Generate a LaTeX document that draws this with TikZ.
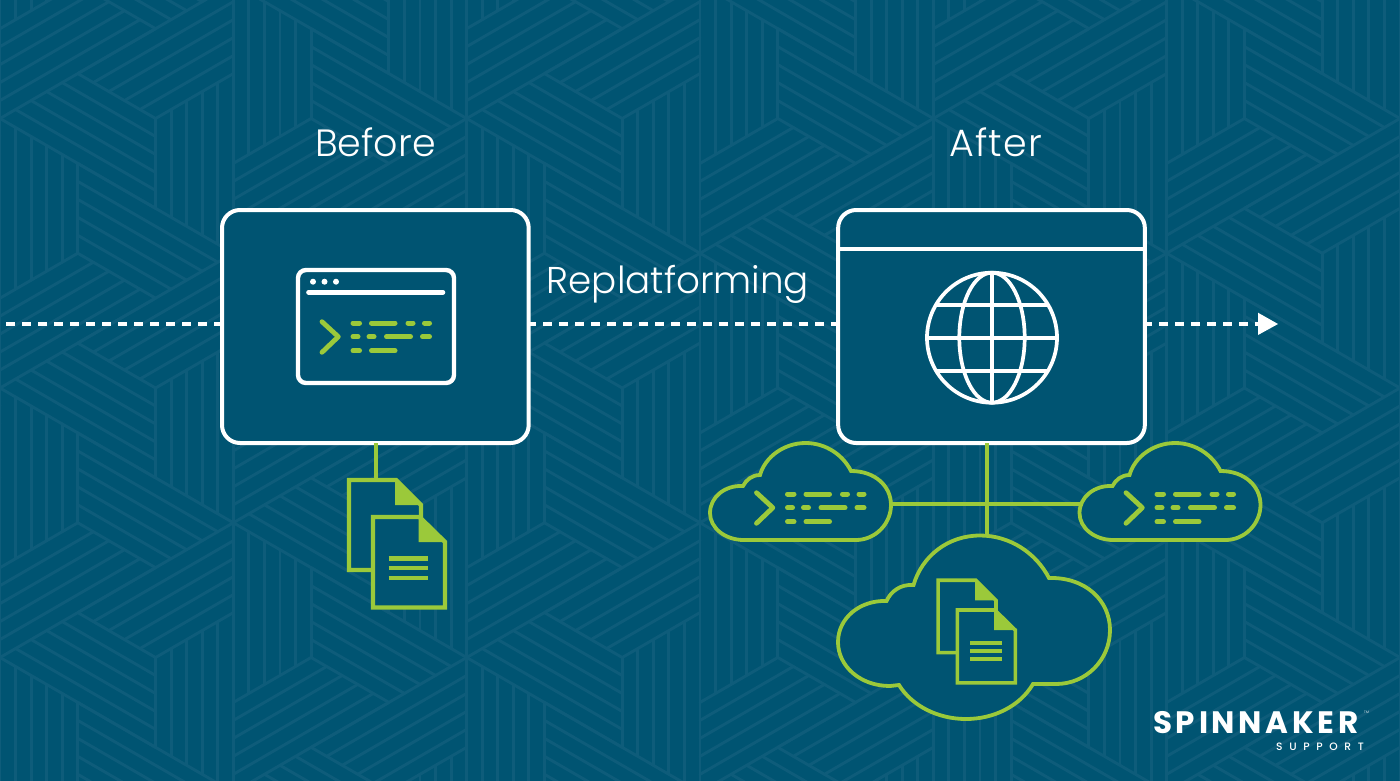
\documentclass[tikz,border=0pt]{standalone}
\usepackage{fontspec}
\setmainfont{Poppins Light}
\newfontfamily\logofont[LetterSpace=12]{Poppins Bold}
\newfontfamily\logosub[LetterSpace=62]{Poppins Medium}
\usetikzlibrary{arrows.meta,calc}
\definecolor{bgblue}{RGB}{0,84,114}
\definecolor{stripeblue}{RGB}{14,92,122}
\definecolor{leaf}{RGB}{155,201,58}
\tikzset{
  x=1pt,y=-1pt,
  stripe/.style={draw=stripeblue,line width=2.9pt,line cap=round},
  bigbox/.style={draw=white,fill=bgblue,line width=4pt,rounded corners=18pt,outer sep=0pt,inner sep=0pt,minimum width=306.7pt,minimum height=233pt},
  whiteline/.style={draw=white,line width=4pt},
  leafline/.style={draw=leaf,line width=3.8pt},
  dashline/.style={draw=white,line width=4pt,dash pattern=on 8.5pt off 7.5pt},
  iconbar/.style={draw=leaf,line width=5pt,line cap=round},
  iconchev/.style={draw=leaf,line width=4.8pt,line cap=round,line join=round},
  label/.style={text=white,anchor=base,inner sep=0pt,outer sep=0pt,font=\fontsize{38}{42}\selectfont},
}
% one trapezoid of stripes: vertex a, next b, prev c
\newcommand{\trapez}[6]{%
  \foreach \k in {0,...,5}{%
    \pgfmathsetmacro{\tt}{\k/5}%
    \pgfmathsetmacro{\sx}{#1+\tt*(#5-#1)/3}%
    \pgfmathsetmacro{\sy}{#2+\tt*(#6-#2)/3}%
    \pgfmathsetmacro{\wx}{#1+2*(#3-#1)/3}%
    \pgfmathsetmacro{\wy}{#2+2*(#4-#2)/3}%
    \pgfmathsetmacro{\ex}{\wx+\tt*((#1+#3+#5)/3-\wx)}%
    \pgfmathsetmacro{\ey}{\wy+\tt*((#2+#4+#6)/3-\wy)}%
    \draw[stripe] (\sx,\sy) -- (\ex,\ey);
  }}
\newcommand{\pinwheel}[6]{%
  \trapez{#1}{#2}{#3}{#4}{#5}{#6}%
  \trapez{#3}{#4}{#5}{#6}{#1}{#2}%
  \trapez{#5}{#6}{#1}{#2}{#3}{#4}}
\newcommand{\termicon}[2]{%
  \begin{scope}[shift={(#1,#2)}]
    \draw[iconchev] (322,321.7) -- (338.3,336.7) -- (322,352.3);
    \draw[iconbar] (353,323) -- (359.5,323) (371.5,323) -- (395,323) (408,323) -- (413,323) (424.5,323) -- (429.5,323);
    \draw[iconbar] (353,336.7) -- (358,336.7) (369,336.7) -- (374,336.7) (386.5,336.7) -- (410.5,336.7) (422.5,336.7) -- (429.5,336.7);
    \draw[iconbar] (353,350.7) -- (359.5,350.7) (371.5,350.7) -- (395,350.7);
  \end{scope}}
\newcommand{\docicon}[4]{%
  \begin{scope}[shift={(#1,#2)},scale=#3]
    \draw[draw=leaf,line width=#4,fill=bgblue] (349,480) -- (396,480) -- (421,505) -- (421,570) -- (349,570) -- cycle;
    \fill[leaf] (395,480) -- (395,505) -- (422.7,505) -- cycle;
    \draw[draw=leaf,line width=#4,fill=bgblue] (373,517) -- (419.5,517) -- (445,542) -- (445,607.5) -- (373,607.5) -- cycle;
    \fill[leaf] (418.5,517) -- (418.5,542) -- (446.5,542) -- cycle;
    \draw[draw=leaf,line width=#4] (388.7,558.3) -- (428,558.3) (388.7,568) -- (428,568) (388.7,577.7) -- (428,577.7);
  \end{scope}}
\newcommand{\smallcloud}[1]{%
  \begin{scope}[shift={(#1,0)}]
    \draw[leafline,fill=bgblue]
      (744,540) -- (856,540)
      .. controls (875,540) and (891,524) .. (891,505)
      .. controls (891,486) and (875,471) .. (851,471)
      .. controls (843,455) and (826,443) .. (805.5,443)
      .. controls (784,443) and (765,457) .. (760,475)
      .. controls (752,475) and (746,480) .. (743,486)
      .. controls (725,485) and (710,497) .. (710,513)
      .. controls (710,528) and (725,540) .. (744,540) -- cycle;
  \end{scope}}
\begin{document}
\begin{tikzpicture}
\useasboundingbox (0,0) rectangle (1400,780);
\begin{scope}
  \clip (-4,-4) rectangle (1404,784);
  \fill[bgblue] (-4,-4) rectangle (1404,784);
  \foreach \i in {0,...,6}{
    \pgfmathsetmacro{\cx}{233.333*\i}
    \pgfmathsetmacro{\cxr}{233.333*(\i+1)}
    \pgfmathsetmacro{\cxl}{233.333*(\i-1)}
    \pgfmathsetmacro{\cy}{ifthenelse(mod(\i,2)==0,118.5,-16.25)}
    \foreach \j in {-1,...,3}{
      \pgfmathsetmacro{\ya}{\cy+269.5*\j}
      \pgfmathsetmacro{\yb}{\ya+269.5}
      \pgfmathsetmacro{\ym}{\ya+134.75}
      \pinwheel{\cx}{\ya}{\cx}{\yb}{\cxr}{\ym}
      \pinwheel{\cx}{\yb}{\cx}{\ya}{\cxl}{\ym}
    }
  }
\end{scope}

\coordinate (start) at (6,324);
\coordinate (tip) at (1278,324);
\node[bigbox] (before) at (375.35,326.5) {};
\node[bigbox] (after) at (991.5,326.5) {};

\draw[dashline] (start) -- (start -| before.west);
\draw[dashline,dash phase=1.4pt] (start -| before.east) -- (start -| after.west);
\draw[dashline,dash phase=1.7pt] (start -| after.east) -- (1258,324);
\fill[white] (1258,312.7) -- (tip) -- (1258,335) -- cycle;

\node[label] (beforelabel) at (375.5,156) {Before};
\node[label] (afterlabel) at (995.5,156) {\addfontfeature{LetterSpace=3}After};
\node[label,font=\fontsize{37.3}{42}\selectfont] (replat) at (678,293.5) {Replatforming};

% before-box window
\draw[white,line width=4.4pt,rounded corners=8pt] (298,270) rectangle (454,383);
\fill[white] (313,281.7) circle (3pt) (324.5,281.7) circle (3pt) (336,281.7) circle (3pt);
\draw[white,line width=4.6pt,line cap=round] (308.5,292.3) -- (443,292.3);
\termicon{0}{0}

% after-box header and globe
\draw[whiteline] (after.west |- 0,249) -- (after.east |- 0,249);
\begin{scope}[white,line width=3.7pt]
  \draw (992,337.7) circle (65pt);
  \draw (992,337.7) ellipse (32.7pt and 65pt);
  \draw (992,272.7) -- (992,402.7);
  \draw (927,337.7) -- (1057,337.7);
  \draw (935.5,305.3) -- (1048.5,305.3);
  \draw (935.5,370.7) -- (1048.5,370.7);
\end{scope}

% connectors
\coordinate (docA) at (376,480);
\coordinate (hub) at (987,504);
\coordinate (cloudL) at (891,504);
\coordinate (cloudR) at (1080,504);
\coordinate (cloudB) at (987,537);
\draw[leafline] (docA |- before.south) -- (docA);
\draw[leafline] (hub |- after.south) -- (cloudB);
\draw[leafline] (cloudL) -- (cloudR);

\docicon{0}{0}{1}{4.4pt}

% clouds
\smallcloud{0}
\smallcloud{369.5}
\termicon{434.5}{171}
\termicon{804}{171}
\draw[leafline,fill=bgblue]
  (899,685)
  .. controls (912,706) and (938,719) .. (966,719)
  .. controls (994,719) and (1020,706) .. (1033,684)
  -- (1056,684)
  .. controls (1086,684) and (1110,660) .. (1110,630)
  .. controls (1110,601) and (1086,577) .. (1049,578)
  .. controls (1036,553) and (1010,535.5) .. (980,535.5)
  .. controls (948,535.5) and (922,556) .. (913.5,585)
  .. controls (901,584) and (891,591) .. (886.5,601)
  .. controls (860,600) and (838,618) .. (838,642)
  .. controls (838,666) and (860,686) .. (890,686) -- cycle;
\docicon{657.1}{193.8}{0.805}{3.6pt}

% logo
\node[text=white,anchor=base west,inner sep=0pt,font={\logofont\fontsize{31}{32}\selectfont}] (logo) at (1153,733.3) {SPINNAKER};
\node[text=white,anchor=base east,inner sep=0pt,font={\logosub\fontsize{10.7}{12}\selectfont}] (logosub) at (1364,750) {SUPPORT};
\node[text=white,anchor=base west,inner sep=0pt,font={\fontsize{3.5}{4}\selectfont}] (tm) at (1364,713) {TM};
\end{tikzpicture}
\end{document}
